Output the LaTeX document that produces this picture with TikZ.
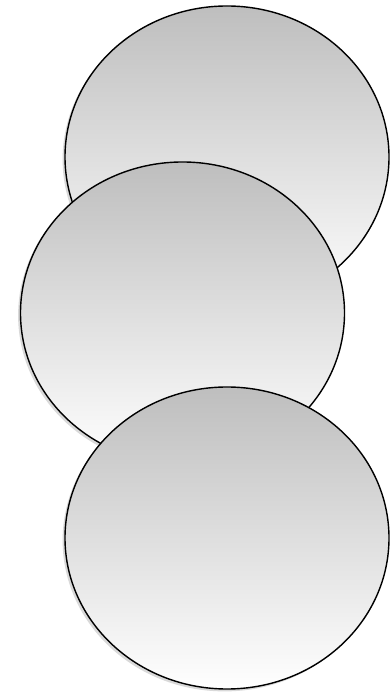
\documentclass[tikz,border=0pt]{standalone}
\usepackage{xcolor}
\usepackage{tikz}
\usetikzlibrary{shapes.geometric, shadows}
\definecolor{bubbletop}{RGB}{190,190,190}
\definecolor{bubbleline}{RGB}{0,0,0}
\tikzset{
  bubble/.style={ellipse, draw=bubbleline, top color=bubbletop, bottom color=white,
    minimum width=8.1cm, minimum height=7.55cm, inner sep=0pt, line width=1pt,
    drop shadow={shadow xshift=-0.06cm, shadow yshift=-0.06cm, opacity=0.25, fill=black!60}}
}
\begin{document}
\begin{tikzpicture}
  \useasboundingbox (0,0) rectangle (9.775,17.35);
  % Bubble top
  \node[bubble] (bubbletop) at (5.675,13.425) {};
  % Bubble middle
  \node[bubble] (bubblemid) at (4.5625,9.525) {};
  % Bubble bottom
  \node[bubble] (bubblelow) at (5.675,3.9) {};
\end{tikzpicture}
\end{document}
